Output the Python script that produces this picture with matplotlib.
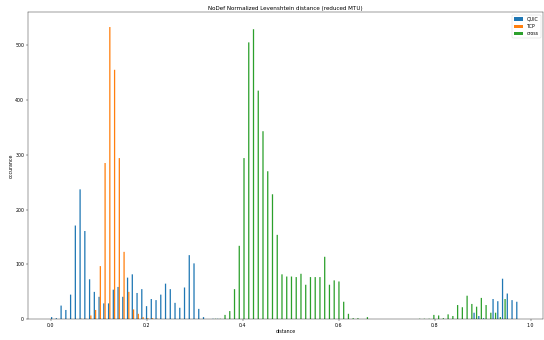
import numpy as np
import matplotlib
matplotlib.use("Agg")
import matplotlib.pyplot as plt

# histogram bins: 99 bins over [0, 0.979]
n_bins = 99
bin_lo, bin_hi = 0.0, 0.979

# counts per bin, {bin index: count}, everything else is 0
quic_counts = {0: 4, 1: 2, 2: 25, 3: 17, 4: 45, 5: 171, 6: 237, 7: 161, 8: 73, 9: 50,
               10: 41, 11: 29, 12: 29, 13: 54, 14: 59, 15: 41, 16: 76, 17: 82, 18: 48, 19: 55,
               20: 24, 21: 37, 22: 35, 23: 45, 24: 65, 25: 55, 26: 30, 27: 21, 28: 58, 29: 117,
               30: 102, 31: 19, 32: 4, 34: 1, 35: 1,
               89: 12, 90: 6, 91: 2, 93: 37, 94: 33, 95: 74, 96: 47, 97: 35, 98: 32}
tcp_counts = {6: 1, 7: 1, 8: 7, 9: 17, 10: 97, 11: 285, 12: 533, 13: 455, 14: 294, 15: 123,
              16: 50, 17: 18, 18: 10, 19: 4, 20: 2, 21: 2, 22: 1}
cross_counts = {34: 1, 35: 1, 36: 8, 37: 15, 38: 55, 39: 134, 40: 294, 41: 505, 42: 529, 43: 417,
                44: 343, 45: 270, 46: 228, 47: 154, 48: 82, 49: 78, 50: 78, 51: 77, 52: 83, 53: 63,
                54: 77, 55: 77, 56: 77, 57: 114, 58: 63, 59: 71, 60: 69, 61: 32, 62: 10, 63: 2,
                64: 2, 66: 4,
                77: 1, 78: 1, 79: 1, 80: 8, 81: 7, 82: 2, 83: 9, 84: 6, 85: 26, 86: 22,
                87: 43, 88: 28, 89: 23, 90: 39, 91: 26, 92: 12, 93: 12, 94: 4, 95: 37}
labels = ["QUIC", "TCP", "cross"]

edges = np.linspace(bin_lo, bin_hi, n_bins + 1)
centers = (edges[:-1] + edges[1:]) / 2


def to_weights(d):
    w = np.zeros(n_bins)
    for k, v in d.items():
        w[k] = v
    return w


weights = [to_weights(quic_counts), to_weights(tcp_counts), to_weights(cross_counts)]

fig = plt.figure(figsize=(16, 10), dpi=34)
_, _, bars = plt.hist([centers] * 3, bins=edges, weights=weights, label=labels)
for group in bars:
    for p in group:
        p.set_snap(False)
plt.title("NoDef Normalized Levenshtein distance (reduced MTU)")
plt.xlabel("distance")
plt.ylabel("occurance")
plt.legend()
plt.subplots_adjust(left=0.0506, right=0.9989, bottom=0.0609, top=0.9635)
plt.savefig("out.png", dpi=34)
